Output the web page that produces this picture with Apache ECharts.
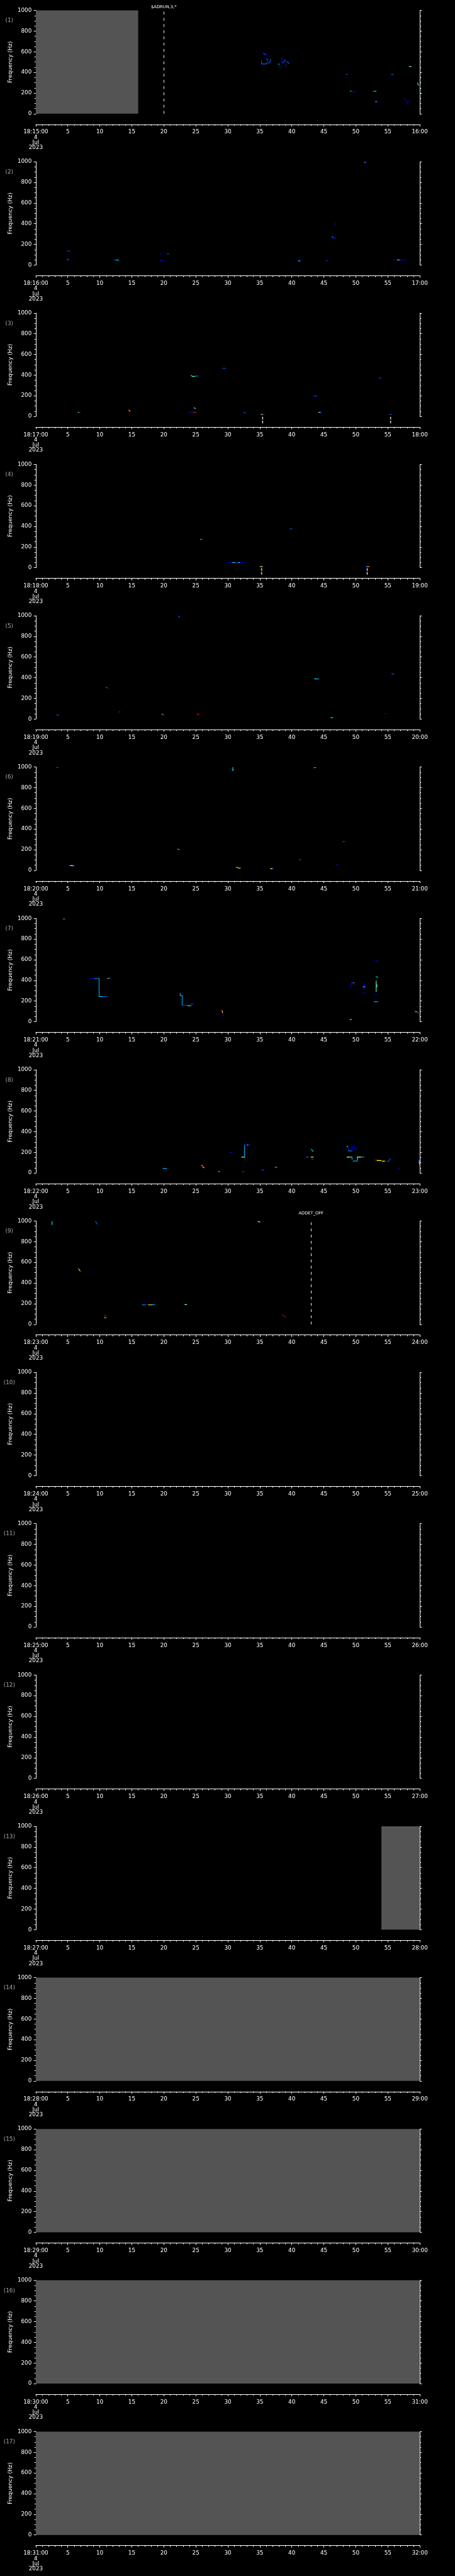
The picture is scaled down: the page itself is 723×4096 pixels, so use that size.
<!DOCTYPE html>
<html>
<head>
<meta charset="utf-8">
<script src="https://cdn.jsdelivr.net/npm/echarts@6/dist/echarts.min.js"></script>
<style>
html, body { margin: 0; padding: 0; background: #000; }
#chart { width: 723px; height: 4096px; }
</style>
</head>
<body>
<div id="chart"></div>
<script>
var S = 0.705;   // reference px -> page px

// ---- data ----
var startTimes = ['18:15:00', '18:16:00', '18:17:00', '18:18:00', '18:19:00', '18:20:00',
    '18:21:00', '18:22:00', '18:23:00', '18:24:00', '18:25:00', '18:26:00', '18:27:00',
    '18:28:00', '18:29:00', '18:30:00', '18:31:00'];
var endTimes = ['16:00', '17:00', '18:00', '19:00', '20:00', '21:00', '22:00', '23:00', '24:00',
    '25:00', '26:00', '27:00', '28:00', '29:00', '30:00', '31:00', '32:00'];
var dateLines = ['4', 'Jul', '2023'];

// [panel, from minute, to minute] : no data (grey)
var gapBlocks = [[0, 0, 16], [12, 54, 60], [13, 0, 60], [14, 0, 60], [15, 0, 60], [16, 0, 60]];

// [panel, minute, text]
var events = [[0, 20, '$ADRUN,3,*'], [8, 43, 'ADDET_OFF']];

// small white flags under the plot: [panel, minute]
var flagMarks = [[2, 35.46], [2, 55.45], [3, 35.3], [3, 51.8]];

// spectrogram traces: [t0 (min), f0 (Hz), t1, f1, level]
var spots01 = [
    [35.28, 508, 35.28, 480, 2], [35.28, 482, 36.05, 482, 2], [36.05, 492, 36.5, 492, 2],
    [36.5, 492, 36.7, 526, 2], [35.6, 585, 35.85, 570, 2], [36.0, 577, 36.2, 559, 1],
    [36.05, 534, 36.25, 513, 2], [37.9, 480, 38.1, 480, 4], [38.1, 483, 38.1, 447, 1],
    [38.1, 447, 38.28, 447, 1], [38.45, 544, 38.45, 494, 1], [38.56, 490, 39.0, 526, 2],
    [39.03, 526, 39.03, 447, 1], [39.28, 506, 39.56, 483, 2], [48.5, 380, 48.65, 380, 2],
    [49.12, 220, 49.35, 216, 4], [49.35, 214, 49.9, 212, 1], [52.52, 214, 52.85, 214, 1],
    [52.85, 217, 53.17, 218, 4], [53.1, 117, 53.25, 117, 4], [53.25, 113, 53.6, 113, 1],
    [55.58, 379, 55.88, 382, 2], [58.37, 456, 58.65, 456, 5], [57.54, 143, 57.85, 126, 1],
    [58.03, 112, 58.31, 117, 1], [58.03, 100, 58.03, 112, 1], [59.65, 298, 59.8, 272, 5],
    [59.8, 272, 60, 264, 1]
];
var spots02 = [
    [4.93, 137, 5.28, 137, 2], [4.93, 53, 5.05, 51, 4], [5.05, 49, 5.35, 49, 1],
    [12.26, 49, 12.6, 49, 2], [12.6, 48, 12.96, 47, 4], [19.4, 112, 19.55, 107, 1],
    [20.5, 108, 20.8, 108, 2], [19.4, 50, 19.55, 44, 1], [19.55, 44, 19.93, 44, 1],
    [41.06, 40, 41.3, 40, 4], [41.3, 40, 41.5, 40, 1], [45.4, 42, 45.55, 42, 2],
    [46.3, 270, 46.5, 270, 3], [46.5, 270, 46.55, 256, 1], [46.55, 256, 46.75, 256, 1],
    [46.75, 256, 46.85, 270, 1], [46.75, 405, 46.78, 390, 1], [51.36, 995, 51.5, 995, 6],
    [51.5, 993, 51.7, 993, 1], [55.9, 50, 56.5, 50, 1], [56.5, 50, 56.9, 50, 5],
    [56.9, 50, 57.8, 50, 1]
];
var spots03 = [
    [6.62, 39, 6.75, 39, 4], [6.75, 39, 6.89, 39, 8], [14.45, 62, 14.6, 56, 8],
    [14.6, 55, 14.72, 52, 6], [24.27, 394, 24.5, 388, 4], [24.5, 386, 24.8, 386, 5],
    [24.8, 390, 25.3, 390, 3], [25.3, 393, 25.52, 393, 1], [29.22, 466, 29.61, 466, 2],
    [24.74, 82, 24.94, 76, 5], [23.96, 40, 24.4, 40, 1], [24.4, 37, 24.6, 37, 1],
    [24.6, 40, 25.01, 40, 8], [32.46, 40, 32.77, 33, 2], [35.22, 19, 35.45, 19, 6],
    [35.45, 19, 35.69, 19, 2], [43.33, 195, 43.6, 195, 1], [43.6, 198, 43.91, 198, 2],
    [44.19, 40, 44.45, 40, 5], [44.45, 34, 44.66, 34, 1], [53.62, 375, 53.89, 368, 2],
    [55.25, 19, 55.6, 19, 2]
];
var spots04 = [
    [25.71, 274, 25.95, 274, 3], [39.74, 377, 40.02, 377, 2], [29.96, 50, 30.74, 50, 1],
    [30.74, 50, 31.25, 50, 4], [31.25, 50, 31.64, 50, 1], [31.64, 50, 31.95, 50, 4],
    [31.95, 50, 32.57, 50, 1], [35.03, 11, 35.2, 11, 7], [35.2, 11, 35.42, 11, 5],
    [51.59, 11, 51.8, 11, 2], [51.8, 11, 52.06, 11, 7]
];
var spots05 = [
    [22.28, 997, 22.48, 985, 2], [10.98, 307, 11.22, 300, 2], [3.3, 39, 3.54, 39, 2],
    [13.05, 69, 13.15, 69, 8], [13.15, 69, 13.24, 69, 1], [19.71, 47, 19.85, 44, 7],
    [19.85, 42, 19.99, 39, 2], [25.21, 49, 25.48, 42, 8], [43.56, 391, 43.8, 387, 4],
    [43.8, 387, 44.22, 389, 3], [46.1, 13, 46.37, 13, 4], [54.44, 52, 54.79, 52, 1],
    [55.6, 440, 55.92, 433, 2]
];
var spots06 = [
    [3.34, 997, 3.44, 997, 6], [3.44, 995, 3.54, 995, 1], [30.8, 997, 30.8, 969, 4],
    [30.7, 969, 30.85, 969, 4], [43.48, 993, 43.76, 997, 7], [22.13, 206, 22.44, 202, 3],
    [47.97, 278, 48.28, 278, 2], [41.11, 103, 41.42, 103, 2], [46.84, 53, 47.19, 55, 1],
    [5.06, 44, 5.4, 44, 1], [5.4, 46, 5.8, 46, 6], [5.8, 43, 5.96, 43, 3],
    [31.29, 31, 31.6, 26, 4], [31.6, 22, 31.95, 22, 6], [36.67, 17, 37.0, 17, 6],
    [37.0, 17, 37.21, 17, 1]
];
var spots07 = [
    [4.36, 996, 4.5, 993, 6], [4.5, 993, 4.59, 990, 1], [8.49, 419, 9.2, 417, 1],
    [9.2, 417, 9.89, 417, 3], [9.89, 414, 9.89, 244, 3], [9.89, 244, 10.5, 244, 4],
    [10.5, 244, 11.1, 244, 2], [11.22, 419, 11.45, 419, 5], [11.45, 422, 11.68, 424, 2],
    [22.56, 276, 22.56, 253, 3], [22.56, 253, 22.87, 253, 3], [22.87, 253, 22.87, 160, 3],
    [22.87, 160, 23.76, 160, 2], [23.76, 154, 24.23, 154, 5], [24.23, 171, 24.55, 171, 2],
    [29.07, 111, 29.12, 103, 8], [29.12, 103, 29.2, 84, 6], [29.2, 84, 29.34, 50, 1],
    [49.15, 333, 49.3, 357, 1], [49.3, 357, 49.4, 379, 1], [49.4, 379, 49.68, 379, 2],
    [49.68, 379, 49.72, 364, 8], [51.32, 369, 51.32, 314, 1], [51.16, 337, 51.3, 337, 5],
    [51.3, 337, 51.45, 337, 2], [51.12, 279, 51.51, 279, 1], [53.15, 597, 53.4, 581, 1],
    [53.15, 436, 53.46, 429, 4], [53.18, 393, 53.18, 293, 5], [53.3, 357, 53.3, 336, 5],
    [53.05, 264, 53.3, 264, 1], [52.88, 193, 53.42, 193, 3], [52.95, 339, 53.1, 339, 1],
    [49.1, 21, 49.33, 21, 4], [59.3, 96, 59.55, 96, 6], [59.55, 96, 59.81, 81, 2]
];
var spots08 = [
    [19.87, 43, 20.45, 43, 3], [25.91, 73, 26.05, 68, 6], [26.05, 65, 26.15, 58, 8],
    [26.15, 55, 26.3, 51, 5], [28.52, 13, 28.75, 13, 4], [30.31, 201, 30.58, 197, 1],
    [32.18, 154, 32.65, 154, 5], [32.61, 154, 32.61, 274, 3], [32.65, 271, 33.04, 271, 1],
    [33.04, 271, 33.24, 271, 7], [33.24, 271, 33.5, 271, 1], [32.26, 13, 32.53, 13, 2],
    [35.26, 30, 35.65, 30, 2], [37.4, 56, 37.68, 56, 7], [42.28, 154, 42.59, 154, 2],
    [43.02, 154, 43.33, 154, 6], [43.06, 229, 43.33, 210, 4], [43.1, 130, 43.33, 130, 2],
    [48.63, 259, 48.8, 250, 4], [48.8, 250, 48.85, 214, 1], [48.85, 214, 49.41, 214, 3],
    [49.41, 214, 49.45, 254, 1], [49.45, 254, 49.8, 254, 1], [49.8, 254, 50.0, 240, 1],
    [50.0, 240, 50.19, 221, 1], [48.63, 154, 49.0, 154, 6], [49.0, 154, 49.41, 154, 4],
    [49.41, 154, 49.41, 130, 3], [49.6, 116, 50.26, 116, 3], [50.26, 154, 50.26, 126, 4],
    [50.26, 154, 50.8, 154, 6], [50.8, 154, 51.24, 154, 3], [53.07, 126, 53.35, 126, 8],
    [53.35, 120, 53.97, 120, 6], [54.16, 114, 54.55, 114, 6], [54.55, 111, 55.05, 111, 1],
    [55.05, 111, 55.41, 137, 2], [56.69, 47, 56.89, 47, 1], [59.77, 119, 59.9, 119, 1],
    [59.9, 119, 59.95, 80, 4], [59.95, 80, 60, 61, 8]
];
var spots09 = [
    [2.55, 997, 2.55, 966, 4], [9.31, 999, 9.58, 971, 2], [34.68, 999, 34.99, 990, 6],
    [6.7, 536, 6.93, 516, 6], [16.63, 189, 17.2, 189, 3], [17.2, 188, 17.6, 188, 1],
    [17.6, 189, 18.2, 189, 6], [18.2, 189, 18.58, 192, 3], [23.1, 189, 23.3, 189, 1],
    [23.3, 191, 23.57, 191, 5], [10.71, 84, 10.98, 84, 8], [10.71, 63, 10.98, 63, 7],
    [38.5, 90, 38.7, 90, 9], [38.7, 90, 39.04, 66, 9]
];
var panelSpots = [spots01, spots02, spots03, spots04, spots05, spots06, spots07, spots08, spots09];

// jet-like intensity colours, index = level
var levelColors = ['#000080', '#0000f0', '#0058ff', '#00a8ff', '#00f0f0', '#70ff90',
    '#ffff00', '#ff9000', '#ff1000', '#b00000'];

// ---- layout (reference px) ----
var PANEL_TOP = 23.5, PANEL_PITCH = 341.3, PLOT_H = 233;
var PLOT_L = 80.7, PLOT_R = 79.3;
var FONT = 'DejaVu Sans';
var FS = 12.5 * S;

var dom = document.getElementById('chart');
var myChart = echarts.init(dom);

function renderGap(params, api) {
    var a = api.coord([api.value(0), 1000]);
    var b = api.coord([api.value(1), 0]);
    return {
        type: 'rect',
        shape: {x: a[0], y: a[1], width: b[0] - a[0], height: b[1] - a[1]},
        style: {fill: '#545454'}
    };
}

function renderSpot(params, api) {
    var a = api.coord([api.value(0), api.value(1)]);
    var b = api.coord([api.value(2), api.value(3)]);
    return {
        type: 'polyline',
        shape: {points: [a, b]},
        style: {stroke: levelColors[api.value(4)], lineWidth: 1.6 * S, lineCap: 'square', fill: null}
    };
}

// little white flag hanging just under the plot
function renderFlag(params, api) {
    var p = api.coord([api.value(0), 0]);
    var h = 6 * S;
    return {
        type: 'group',
        children: [
            {type: 'polyline', shape: {points: [[p[0], p[1] + 1.5 * S], [p[0], p[1] + 1.5 * S + h]]},
                style: {stroke: '#fff', lineWidth: 1, fill: null}},
            {type: 'polyline', shape: {points: [[p[0], p[1] + 1.5 * S], [p[0] - 1.5 * S, p[1] + 4 * S]]},
                style: {stroke: '#fff', lineWidth: 1, fill: null}},
            {type: 'polyline', shape: {points: [[p[0], p[1] + 10 * S], [p[0], p[1] + 10 * S + h]]},
                style: {stroke: '#fff', lineWidth: 1, fill: null}},
            {type: 'polyline', shape: {points: [[p[0], p[1] + 10 * S], [p[0] - 1.5 * S, p[1] + 12.5 * S]]},
                style: {stroke: '#fff', lineWidth: 1, fill: null}}
        ]
    };
}

function xLabel(k) {
    return function (v) {
        if (v === 0) return [startTimes[k]].concat(dateLines).join('\n');
        if (v === 60) return endTimes[k];
        return String(v);
    };
}

function yAxisFor(i, pos) {
    return {
        type: 'value', gridIndex: i, position: pos,
        min: 0, max: 1000, interval: 200,
        axisLine: {show: true, lineStyle: {color: '#fff', width: 1}},
        axisTick: {show: true, inside: false, length: 4.5 * S, lineStyle: {color: '#fff'}},
        minorTick: {show: true, splitNumber: 4, length: 3 * S, lineStyle: {color: '#fff'}},
        splitLine: {show: false},
        axisLabel: {
            show: pos === 'left', color: '#fff', fontSize: FS, fontFamily: FONT, margin: 9.4 * S,
            formatter: function (v) { return String(v); }
        }
    };
}

var grids = [], xAxes = [], yAxes = [], series = [], graphics = [];

for (var i = 0; i < startTimes.length; i++) {
    var panelTop = PANEL_TOP + i * PANEL_PITCH;
    grids.push({left: PLOT_L * S, right: PLOT_R * S, top: panelTop * S, height: PLOT_H * S});

    xAxes.push({
        type: 'value', gridIndex: i, position: 'bottom',
        min: 0, max: 60, interval: 5, offset: 24 * S,
        axisLine: {show: true, onZero: false, lineStyle: {color: '#fff', width: 1}},
        axisTick: {show: true, inside: false, length: 4.5 * S, lineStyle: {color: '#fff'}},
        minorTick: {show: true, splitNumber: 5, length: 3 * S, lineStyle: {color: '#fff'}},
        splitLine: {show: false},
        axisLabel: {
            color: '#fff', fontSize: FS, fontFamily: FONT, lineHeight: 11.7 * S,
            margin: 11.8 * S, formatter: xLabel(i)
        }
    });
    yAxes.push(yAxisFor(i, 'left'));
    yAxes.push(yAxisFor(i, 'right'));

    var gaps = gapBlocks.filter(function (g) { return g[0] === i; })
        .map(function (g) { return [g[1], g[2]]; });
    series.push({
        type: 'custom', xAxisIndex: i, yAxisIndex: 2 * i, z: 1,
        renderItem: renderGap, data: gaps, silent: true
    });

    var ev = events.filter(function (e) { return e[0] === i; });
    var spotSeries = {
        type: 'custom', xAxisIndex: i, yAxisIndex: 2 * i, clip: true,
        renderItem: renderSpot, data: panelSpots[i] || [], silent: true
    };
    if (ev.length) {
        spotSeries.markLine = {
            silent: true, symbol: ['none', 'none'], animation: false,
            lineStyle: {color: '#fff', width: 1, type: [6 * S, 8 * S]},
            label: {
                show: true, position: 'end', color: '#fff', fontFamily: FONT,
                fontSize: 9.5 * S, distance: (i === 0 ? 3 : 12) * S,
                formatter: ev[0][2]
            },
            data: [{xAxis: ev[0][1]}]
        };
    }
    series.push(spotSeries);

    var flags = flagMarks.filter(function (f) { return f[0] === i; })
        .map(function (f) { return [f[1]]; });
    if (flags.length) {
        series.push({
            type: 'custom', xAxisIndex: i, yAxisIndex: 2 * i, clip: false,
            renderItem: renderFlag, data: flags, silent: true
        });
    }

    graphics.push({
        type: 'text', x: 21 * S, y: (panelTop + 23.3) * S, silent: true,
        style: {text: '(' + (i + 1) + ')', fill: '#a8a8a8', font: FS + 'px "' + FONT + '"',
            align: 'center', verticalAlign: 'middle'}
    });
    graphics.push({
        type: 'text', x: 23.3 * S, y: (panelTop + 116.5) * S, rotation: Math.PI / 2, silent: true,
        style: {text: 'Frequency (Hz)', fill: '#fff', font: FS + 'px "' + FONT + '"',
            align: 'center', verticalAlign: 'middle'}
    });
}

var option = {
    backgroundColor: '#000',
    animation: false,
    grid: grids,
    xAxis: xAxes,
    yAxis: yAxes,
    series: series,
    graphic: graphics
};

if (option && typeof option === 'object') {
    myChart.setOption(option);
}
</script>
</body>
</html>
